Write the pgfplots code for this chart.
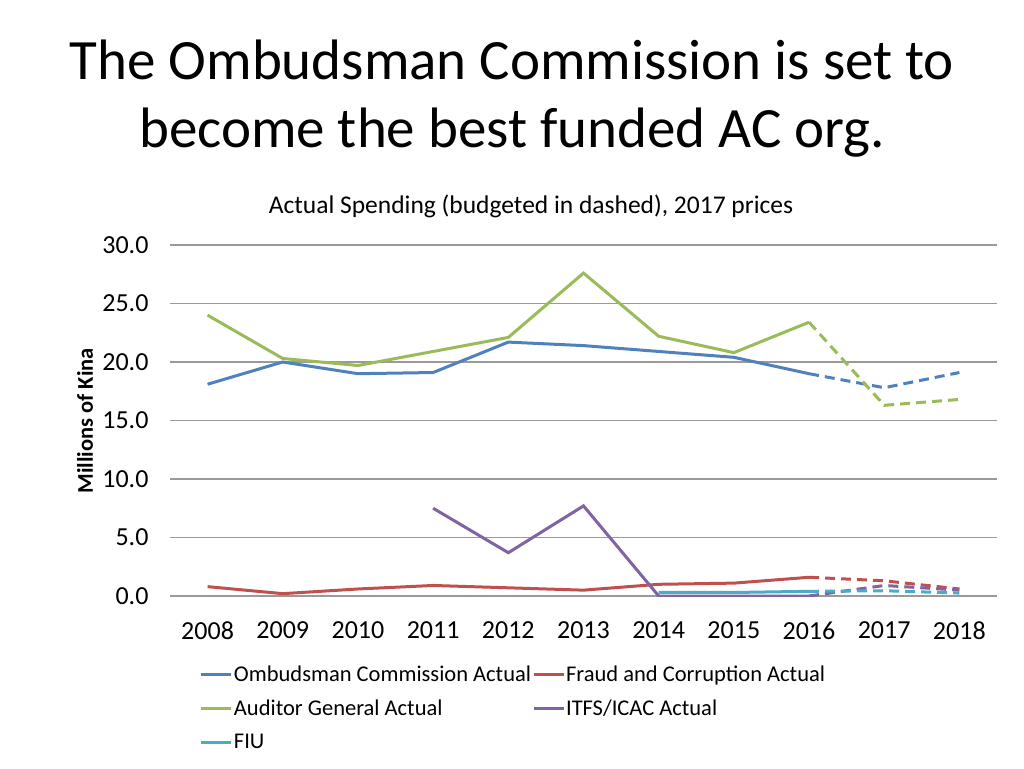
\documentclass[border=0pt]{standalone}
\usepackage{fontspec}
\setmainfont{Carlito}
\usepackage{pgfplots}
\pgfplotsset{compat=1.18}
\definecolor{cOmb}{HTML}{4F81BD}
\definecolor{cFraud}{HTML}{C0504D}
\definecolor{cAud}{HTML}{9BBB59}
\definecolor{cITFS}{HTML}{8064A2}
\definecolor{cFIU}{HTML}{4BACC6}
\definecolor{cGrid}{HTML}{9A9A9A}
\begin{document}
\begin{tikzpicture}[x=1pt,y=1pt]
\path[use as bounding box] (0,0) rectangle (1024,768);
\node[anchor=base, inner sep=0, font=\fontsize{57}{66}\selectfont] at (512,768-80) {The Ombudsman Commission is set to};
\node[anchor=base, inner sep=0, font=\fontsize{57}{66}\selectfont] at (512,768-148) {become the best funded AC org.};
\node[anchor=base, inner sep=0, font=\fontsize{25.5}{30}\selectfont] at (531,768-214) {Actual Spending (budgeted in dashed), 2017 prices};
\node[rotate=90, inner sep=0, font=\fontsize{22.5}{26}\selectfont\bfseries] at (85,768-421) {Millions of Kina};
\begin{axis}[
  at={(170pt,172pt)}, anchor=south west,
  scale only axis, width=827pt, height=351pt,
  xmin=2007.5, xmax=2018.5, ymin=0, ymax=30,
  xtick={2008,2009,...,2018}, ytick={0,5,...,30},
  axis line style={draw=none},
  major tick length=0pt,
  ymajorgrids, grid style={cGrid, line width=1.2pt},
  /pgf/number format/assume math mode=true,
  xticklabel style={/pgf/number format/1000 sep={}, font=\fontsize{26}{30}\selectfont, yshift=-22pt},
  yticklabel style={/pgf/number format/.cd, fixed, fixed zerofill, precision=1, /tikz/.cd, font=\fontsize{26}{30}\selectfont, xshift=-18pt},
  legend columns=2,
  legend cell align=left,
  legend style={at={(0.036,-0.19)}, anchor=north west, draw=none, fill=none, inner sep=0pt,
    font=\fontsize{22.5}{26}\selectfont, row sep=11pt,
    nodes={inner xsep=1pt, inner ysep=3pt}},
  legend image code/.code={\draw[#1, line width=3pt] (0pt,0pt) -- (30pt,0pt);},
  every axis plot/.append style={line width=3pt},
]
\addplot[cOmb, mark=none] coordinates {(2008,18.1)(2009,20.0)(2010,19.0)(2011,19.1)(2012,21.7)(2013,21.4)(2014,20.9)(2015,20.4)(2016,19.0)};
\addlegendentry{Ombudsman Commission Actual}
\addplot[cFraud, mark=none] coordinates {(2008,0.8)(2009,0.2)(2010,0.6)(2011,0.9)(2012,0.7)(2013,0.5)(2014,1.0)(2015,1.1)(2016,1.6)};
\addlegendentry{Fraud and Corruption Actual}
\addplot[cAud, mark=none] coordinates {(2008,24.0)(2009,20.3)(2010,19.7)(2011,20.9)(2012,22.1)(2013,27.6)(2014,22.2)(2015,20.8)(2016,23.4)};
\addlegendentry{Auditor General Actual}
\addplot[cITFS, mark=none] coordinates {(2011,7.5)(2012,3.7)(2013,7.7)(2014,0.0)(2015,0.0)(2016,0.0)};
\addlegendentry{ITFS/ICAC Actual}
\addplot[cFIU, mark=none] coordinates {(2014,0.3)(2015,0.3)(2016,0.4)};
\addlegendentry{FIU}
\addplot[cOmb, mark=none, dash pattern=on 10pt off 6pt, forget plot] coordinates {(2016,19.0)(2017,17.8)(2018,19.1)};
\addplot[cFraud, mark=none, dash pattern=on 10pt off 6pt, forget plot] coordinates {(2016,1.6)(2017,1.3)(2018,0.6)};
\addplot[cAud, mark=none, dash pattern=on 10pt off 6pt, forget plot] coordinates {(2016,23.4)(2017,16.3)(2018,16.8)};
\addplot[cITFS, mark=none, dash pattern=on 10pt off 6pt, forget plot] coordinates {(2016,0.0)(2017,0.9)(2018,0.5)};
\addplot[cFIU, mark=none, dash pattern=on 10pt off 6pt, forget plot] coordinates {(2016,0.4)(2017,0.45)(2018,0.25)};
\end{axis}
\end{tikzpicture}
\end{document}
